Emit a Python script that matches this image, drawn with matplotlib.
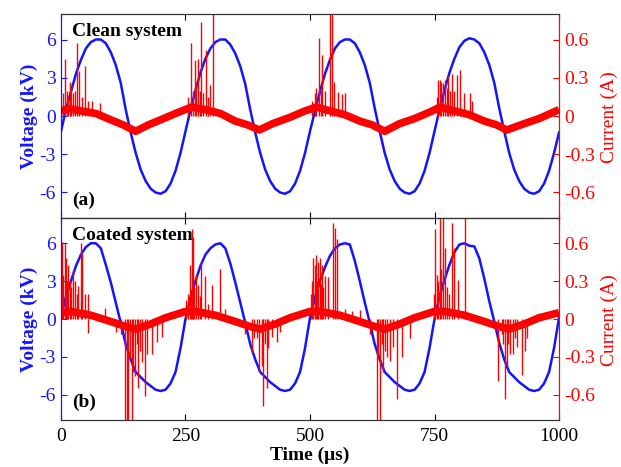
import numpy as np
import matplotlib.pyplot as plt

plt.rcParams['font.family'] = ['Liberation Serif', 'DejaVu Serif']
plt.rcParams['axes.unicode_minus'] = False

AZUL = '#1414ff'
VERMELHO = '#ff0000'

# Tempo de amostragem da tensao (us)
tempo = np.arange(0, 1001, 10)

# Tensao (kV) - sistema limpo
tensao_a = [-1.2, 0.5, 1.9, 3.3, 4.4, 5.3, 5.8, 6.0, 6.0, 5.7, 5.0, 4.0, 2.6, 0.5, -1.3, -2.9, -4.2, -5.1, -5.7, -6.0, -6.1, -5.9, -5.3, -4.3, -2.9,
            -1.2, 0.5, 2.0, 3.4, 4.5, 5.3, 5.8, 6.0, 6.0, 5.6, 4.9, 3.9, 2.5, 0.5, -1.3, -2.9, -4.2, -5.1, -5.7, -6.0, -6.1, -5.9, -5.3, -4.3, -2.9,
            -1.2, 0.4, 1.9, 3.3, 4.4, 5.3, 5.8, 6.0, 6.0, 5.7, 5.0, 4.0, 2.6, 0.6, -1.2, -2.9, -4.2, -5.1, -5.7, -6.0, -6.1, -5.9, -5.3, -4.3, -2.9,
            -1.2, 0.5, 2.0, 3.4, 4.5, 5.4, 5.9, 6.1, 6.0, 5.7, 5.0, 4.0, 2.6, 0.6, -1.2, -2.9, -4.2, -5.1, -5.7, -6.0, -6.1, -5.9, -5.3, -4.3, -2.9,
            -1.3]

# Tensao (kV) - sistema revestido
tensao_b = [0.2, 1.8, 3.0, 4.2, 5.1, 5.7, 6.0, 6.0, 5.6, 4.3, 2.9, 1.3, -0.3, -2.0, -3.2, -4.2, -4.6, -5.0, -5.3, -5.6, -5.7, -5.6, -5.1, -4.2, -2.3,
            0.0, 1.7, 3.0, 4.2, 5.1, 5.6, 5.9, 6.0, 5.6, 4.4, 2.9, 1.3, -0.3, -2.0, -3.2, -4.2, -4.6, -5.0, -5.3, -5.6, -5.7, -5.6, -5.1, -4.2, -2.3,
            0.1, 1.7, 3.0, 4.1, 5.0, 5.6, 5.9, 6.0, 5.9, 4.6, 3.0, 1.3, -0.3, -2.0, -3.2, -4.2, -4.6, -5.0, -5.3, -5.6, -5.7, -5.6, -5.1, -4.2, -2.3,
            0.0, 1.8, 3.1, 4.3, 5.3, 5.9, 6.0, 5.8, 5.75, 4.8, 3.2, 1.4, -0.2, -1.9, -3.2, -4.2, -4.6, -5.0, -5.3, -5.6, -5.7, -5.6, -5.1, -4.2, -2.3,
            0.1]

# Corrente de base (A)
t_corrente_a = [0, 15, 40, 70, 100, 125, 150, 175, 200, 230, 262, 290, 320, 350, 375, 398, 425, 460, 490, 513,
                540, 570, 600, 625, 650, 680, 710, 740, 761, 790, 820, 850, 875, 895, 930, 960, 1000]
corrente_a = [0.04, 0.06, 0.04, 0.02, -0.03, -0.07, -0.12, -0.07, -0.03, 0.02, 0.07, 0.05, 0.02, -0.04, -0.07, -0.11, -0.06, -0.01, 0.04, 0.07,
              0.04, 0.01, -0.04, -0.07, -0.12, -0.06, -0.02, 0.03, 0.07, 0.04, 0.01, -0.04, -0.07, -0.11, -0.06, -0.02, 0.05]

t_corrente_b = [0, 20, 60, 100, 130, 150, 180, 210, 250, 270, 310, 350, 380, 400, 430, 460, 500, 520, 560, 600,
                630, 650, 680, 710, 750, 770, 810, 850, 880, 900, 930, 960, 1000]
corrente_b = [0.05, 0.06, 0.03, -0.02, -0.06, -0.08, -0.04, 0.01, 0.06, 0.06, 0.03, -0.02, -0.06, -0.08, -0.04, 0.01, 0.06, 0.06, 0.03, -0.02,
              -0.06, -0.08, -0.04, 0.01, 0.06, 0.06, 0.03, -0.02, -0.06, -0.08, -0.04, 0.01, 0.05]

# Pulsos de descarga (tempo em us, pico em A)
t_pulsos_a = [5, 8, 12, 15, 18, 21, 25, 28, 33, 36, 42, 49, 55, 62, 78,
              255, 262, 266, 269, 272, 276, 279, 282, 286, 291, 295, 300, 306,
              505, 510, 513, 519, 522, 525, 530, 540, 545, 549, 557, 564, 570,
              755, 758, 761, 764, 768, 771, 775, 778, 781, 785, 790, 795, 801, 809, 821, 826]
pulsos_a = [0.18, 0.45, 0.2, 0.15, 0.27, 0.22, 0.18, 0.2, 0.57, 0.35, 0.15, 0.39, 0.12, 0.12, 0.1,
            0.15, 0.57, 0.2, 0.44, 0.25, 0.45, 0.2, 0.74, 0.18, 0.52, 0.15, 0.24, 0.85,
            0.12, 0.18, 0.22, 0.61, 0.2, 0.48, 0.2, 0.85, 0.85, 0.27, 0.19, 0.17, 0.18,
            0.15, 0.28, 0.28, 0.27, 0.26, 0.28, 0.22, 0.31, 0.2, 0.33, 0.2, 0.32, 0.36, 0.18, 0.18, 0.12]

t_pulsos_b = [1, 3, 5, 8, 11, 13, 15, 18, 21, 25, 29, 32, 35, 40, 41.5, 48, 55, 88,
              55, 110, 120, 128, 132, 135, 138, 142, 145, 149, 152, 155, 158, 162, 169, 172, 182, 192, 202,
              252, 256, 259, 262, 264, 266, 268, 271, 276, 279, 282, 289, 295, 303, 319, 330,
              370, 383, 388, 393, 398, 403, 406, 410, 413, 416, 423, 433, 440,
              502, 505, 507, 510, 513, 515, 517, 520, 522, 524, 527, 530, 537, 547, 550, 554, 570, 585, 600,
              620, 634, 637, 641, 645, 647, 651, 654, 660, 667, 674, 684, 701,
              748, 751, 755, 758, 761, 764, 767, 771, 775, 779, 786, 789, 798, 811,
              878, 885, 888, 892, 895, 898, 902, 908, 912, 916, 925, 932, 935]
pulsos_b = [0.4, 0.61, 0.35, 0.6, 0.48, 0.3, 0.43, 0.3, 0.25, 0.39, 0.3, 0.2, 0.26, 0.6, 0.52, 0.2, 0.2, 0.09,
            -0.11, -0.1, -0.12, -0.85, -0.85, -0.85, -0.3, -0.85, -0.42, -0.45, -0.2, -0.55, -0.25, -0.34, -0.61, -0.28, -0.28, -0.18, -0.14,
            0.15, 0.2, 0.43, 0.2, 0.71, 0.65, 0.25, 0.35, 0.27, 0.18, 0.45, 0.34, 0.12, 0.27, 0.4, 0.08,
            -0.12, -0.26, -0.15, -0.15, -0.42, -0.37, -0.69, -0.2, -0.55, -0.23, -0.14, -0.18, -0.1,
            0.2, 0.3, 0.48, 0.43, 0.51, 0.3, 0.45, 0.48, 0.28, 0.43, 0.25, 0.34, 0.33, 0.76, 0.72, 0.63, 0.08, 0.06, 0.07,
            -0.12, -0.85, -0.3, -0.85, -0.2, -0.42, -0.25, -0.3, -0.33, -0.22, -0.63, -0.3, -0.15,
            0.2, 0.71, 0.35, 0.3, 0.85, 0.4, 0.85, 0.56, 0.25, 0.2, 0.76, 0.56, 0.31, 0.85,
            -0.49, -0.12, -0.2, -0.63, -0.37, -0.2, -0.28, -0.28, -0.15, -0.22, -0.44, -0.25, -0.15]

tick_tempo = [0, 250, 500, 750, 1000]
tick_tensao = [-6, -3, 0, 3, 6]
tick_corrente = [-0.6, -0.3, 0, 0.3, 0.6]
rotulo_corrente = ['-0.6', '-0.3', '0', '0.3', '0.6']

fig = plt.figure(figsize=(6.21, 4.67), dpi=100)
ax_a = fig.add_axes([0.0982, 0.5332, 0.802, 0.4368])
ax_b = fig.add_axes([0.0982, 0.1006, 0.802, 0.4326])


def desenhar_painel(ax, tensao, t_corr, corr, t_pul, pul, titulo, letra, mostrar_x):
    ax.plot(tempo, tensao, color=AZUL, lw=1.8, zorder=2)
    ax.set_xlim(0, 1000)
    ax.set_ylim(-8, 8)
    ax.set_yticks(tick_tensao)
    ax.set_yticklabels([str(v) for v in tick_tensao])
    ax.set_xticks(tick_tempo)
    ax.tick_params(axis='x', direction='in', top=True, length=4, labelsize=14, colors='black', pad=6)
    ax.tick_params(axis='y', direction='in', length=4, labelsize=14, colors=AZUL)
    if not mostrar_x:
        ax.set_xticklabels([])
    ax.spines['left'].set_color(AZUL)
    ax.spines['right'].set_color(VERMELHO)
    for lado in ['top', 'bottom']:
        ax.spines[lado].set_color('#333333')
    ax.set_ylabel('Voltage (kV)', color=AZUL, fontsize=14, fontweight='bold', labelpad=1)

    ax2 = ax.twinx()
    # faixa de ruido da corrente
    ax2.plot(t_corr, corr, color=VERMELHO, lw=5.5, solid_capstyle='butt')
    ax2.vlines(t_pul, 0, pul, color=VERMELHO, lw=1.0)
    ax2.set_ylim(-0.8, 0.8)
    ax2.set_xlim(0, 1000)
    ax2.set_yticks(tick_corrente)
    ax2.set_yticklabels(rotulo_corrente)
    ax2.tick_params(axis='y', direction='in', length=4, labelsize=14, colors=VERMELHO)
    ax2.spines['right'].set_color(VERMELHO)
    ax2.spines['left'].set_color(AZUL)
    for lado in ['top', 'bottom']:
        ax2.spines[lado].set_color('#333333')

    ax.text(0.022, 0.955, titulo, transform=ax.transAxes, fontsize=14, fontweight='bold',
            va='top', ha='left', zorder=5)
    ax.text(0.022, 0.045, letra, transform=ax.transAxes, fontsize=14, fontweight='bold',
            va='bottom', ha='left', zorder=5)
    return ax2


desenhar_painel(ax_a, tensao_a, t_corrente_a, corrente_a, t_pulsos_a, pulsos_a,
                'Clean system', '(a)', False)
desenhar_painel(ax_b, tensao_b, t_corrente_b, corrente_b, t_pulsos_b, pulsos_b,
                'Coated system', '(b)', True)

ax_b.set_xlabel('Time (\u03bcs)', fontsize=14, fontweight='bold', labelpad=1)

fig.text(0.982, 0.75, 'Current (A)', color=VERMELHO, fontsize=14, rotation=90, va='center', ha='center')
fig.text(0.982, 0.315, 'Current (A)', color=VERMELHO, fontsize=14, rotation=90, va='center', ha='center')

fig.savefig('out.png', dpi=100)
